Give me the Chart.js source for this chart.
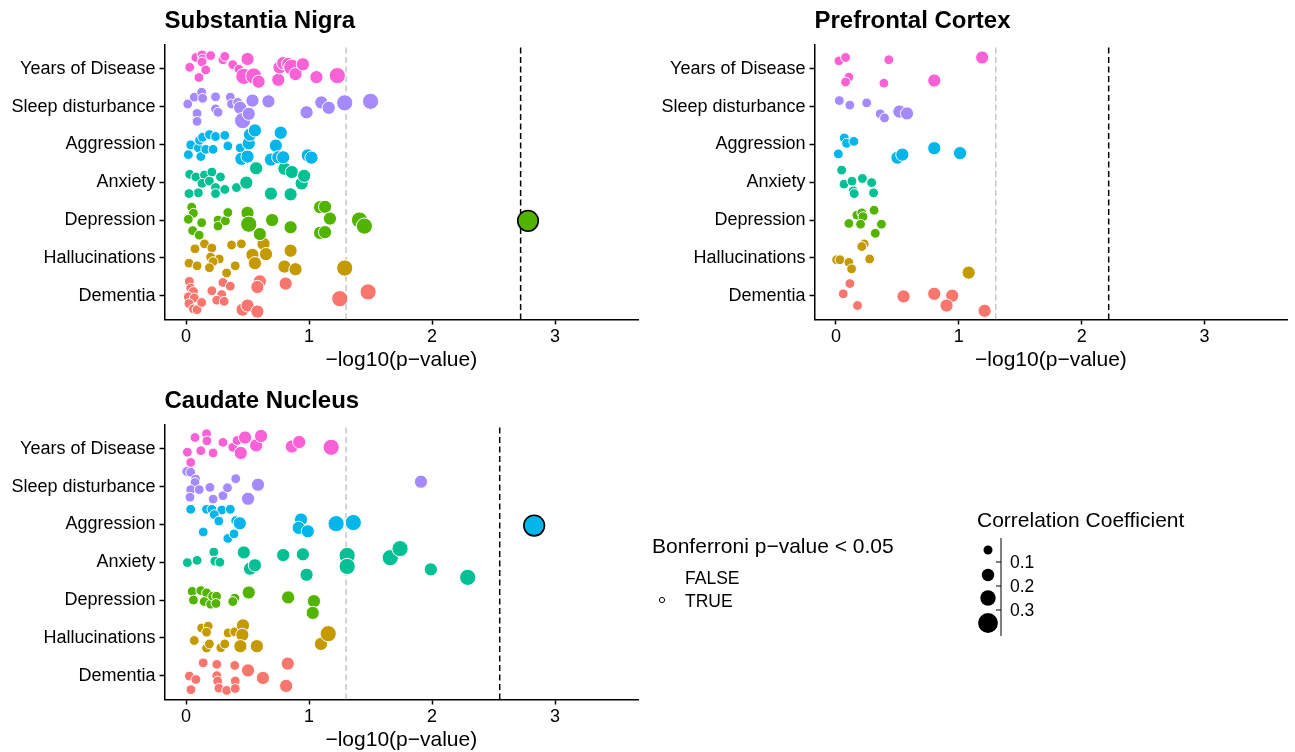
<!DOCTYPE html>
<html>
<head>
<meta charset="utf-8">
<script src="https://cdn.jsdelivr.net/npm/chart.js@4.4.1/dist/chart.umd.min.js"></script>
<style>
  html, body { margin: 0; padding: 0; background: #fff; overflow: hidden; }
  body { width: 1295px; height: 752px; position: relative; font-family: "Liberation Sans", Arial, sans-serif; }
  canvas { position: absolute; }
  #legend { position: absolute; left: 0; top: 0; }
</style>
</head>
<body>
<canvas id="sn" width="650" height="375" style="left:0;top:0"></canvas>
<canvas id="pfc" width="645" height="375" style="left:650px;top:0"></canvas>
<canvas id="cn" width="650" height="375" style="left:0;top:380px"></canvas>

<svg id="legend" width="1295" height="752" font-family="Liberation Sans, Arial, sans-serif">
  <text x="652" y="552.5" font-size="21">Bonferroni p−value &lt; 0.05</text>
  <text x="685" y="583.5" font-size="17.5">FALSE</text>
  <text x="685" y="606.5" font-size="17.5">TRUE</text>
  <circle cx="662" cy="600" r="2.6" fill="#fff" stroke="#000" stroke-width="1"></circle>

  <text x="977" y="526.5" font-size="21">Correlation Coefficient</text>
  <g id="sizeKeys"></g>
  <line x1="1001" y1="538" x2="1001" y2="636" stroke="#000" stroke-width="1"></line>
  <g id="sizeTicks"></g>
</svg>

<script>
// categories bottom -> top on the y axis
const CATEGORIES = ['Dementia', 'Hallucinations', 'Depression', 'Anxiety', 'Aggression', 'Sleep disturbance', 'Years of Disease'];
const COLORS = ['#F8766D', '#C49A00', '#53B400', '#00C094', '#00B6EB', '#A58AFF', '#FB61D7'];
const X_TICKS = [0, 1, 2, 3];
const SIZE_BREAKS = [0.1, 0.2, 0.3];
const NOMINAL_LINE = 1.30103;   // -log10(0.05)

// bonferroni thresholds (-log10) per region
const BONF_SN = 2.72;
const BONF_PFC = 2.22;
const BONF_CN = 2.55;

// points: [ -log10(p), vertical jitter (category units, + = down), correlation coefficient ]
// --- Substantia Nigra ---
const SN_DEMENTIA = [[0.027,-0.38,.05],[0.038,-0.2,.05],[0.06,-0.11,.05],[0.019,0.03,.05],[0.067,0.06,.05],[0.024,0.21,.05],[0.06,0.35,.05],[0.09,0.37,.05],[0.127,0.18,.05],[0.21,-0.13,.05],[0.30,-0.35,.05],[0.36,-0.25,.05],[0.29,-0.03,.05],[0.25,0.12,.05],[0.31,0.15,.05],[0.46,0.37,.15],[0.50,0.26,.15],[0.58,0.42,.15],[0.60,-0.38,.15],[0.58,-0.23,.15],[0.81,-0.32,.15],[1.25,0.08,.25],[1.48,-0.1,.25]];
const SN_HALLUCINATIONS = [[0.073,-0.24,.05],[0.15,-0.37,.05],[0.21,-0.26,.05],[0.024,0.14,.05],[0.09,0.21,.05],[0.2,-0.02,.05],[0.27,0.03,.05],[0.22,0.1,.05],[0.19,0.26,.05],[0.33,0.4,.05],[0.37,-0.34,.05],[0.45,-0.37,.05],[0.40,0.21,.05],[0.54,-0.08,.15],[0.56,0.14,.15],[0.63,-0.37,.15],[0.65,-0.1,.15],[0.80,0.23,.15],[0.85,-0.19,.15],[0.89,0.3,.15],[1.29,0.27,.25]];
const SN_DEPRESSION = [[0.046,-0.34,.05],[0.06,-0.18,.05],[0.019,-0.02,.05],[0.127,0.07,.05],[0.054,0.28,.05],[0.107,0.4,.05],[0.26,0,.05],[0.26,0.16,.05],[0.32,0.02,.05],[0.34,-0.2,.05],[0.50,-0.19,.15],[0.51,0.11,.25],[0.60,0.37,.15],[0.70,0,.15],[0.85,0.19,.15],[1.09,-0.34,.15],[1.13,-0.35,.15],[1.17,-0.04,.15],[1.09,0.34,.15],[1.13,0.32,.15],[1.41,0,.25],[1.45,0.16,.25],[2.78,0.02,.35]];
const SN_ANXIETY = [[0.03,-0.21,.05],[0.08,-0.14,.05],[0.15,-0.19,.05],[0.21,-0.27,.05],[0.13,0.03,.05],[0.19,-0.03,.05],[0.28,-0.14,.05],[0.24,0.14,.05],[0.24,0.3,.05],[0.315,0.19,.05],[0.1,0.28,.05],[0.024,0.3,.05],[0.41,0.14,.05],[0.49,0.01,.15],[0.57,-0.37,.15],[0.69,0.3,.15],[0.80,-0.36,.15],[0.86,-0.27,.15],[0.94,0.03,.15],[0.96,-0.17,.15],[0.85,0.32,.15]];
const SN_AGGRESSION = [[0.019,0.27,.05],[0.038,0.01,.05],[0.1,0.09,.05],[0.12,0.32,.05],[0.11,-0.11,.05],[0.135,-0.19,.05],[0.19,-0.26,.05],[0.24,-0.21,.05],[0.315,-0.24,.05],[0.16,0.13,.05],[0.22,0.13,.05],[0.34,0.04,.05],[0.44,0.09,.05],[0.45,0.38,.15],[0.5,0.32,.15],[0.51,-0.03,.15],[0.52,-0.26,.15],[0.56,-0.37,.15],[0.69,0.4,.15],[0.73,0.03,.15],[0.77,-0.31,.15],[0.75,0.34,.15],[0.79,0.34,.15],[0.99,0.29,.15],[1.02,0.35,.15]];
const SN_SLEEP = [[0.014,-0.07,.05],[0.067,-0.25,.05],[0.127,-0.38,.05],[0.135,-0.22,.05],[0.09,0.18,.05],[0.09,0.39,.05],[0.24,-0.26,.05],[0.24,0.06,.05],[0.26,0.15,.05],[0.36,-0.25,.05],[0.37,-0.07,.05],[0.42,-0.11,.05],[0.44,0.03,.15],[0.46,0.37,.25],[0.51,0.19,.15],[0.54,-0.16,.15],[0.67,-0.14,.15],[0.98,0.15,.15],[1.10,-0.11,.15],[1.16,0.03,.15],[1.29,-0.1,.25],[1.50,-0.14,.25]];
const SN_YEARS = [[0.03,-0.04,.05],[0.08,-0.3,.05],[0.13,-0.37,.05],[0.135,-0.26,.05],[0.13,-0.18,.05],[0.16,0.03,.05],[0.105,0.23,.05],[0.2,-0.35,.05],[0.30,-0.24,.05],[0.315,-0.33,.05],[0.38,-0.11,.05],[0.43,0.01,.05],[0.50,-0.26,.15],[0.47,0.2,.25],[0.55,0.19,.25],[0.59,0.34,.15],[0.75,0.29,.15],[0.76,-0.04,.15],[0.79,-0.15,.15],[0.83,-0.13,.15],[0.86,-0.04,.25],[0.89,0.14,.15],[0.95,-0.12,.15],[1.06,0.22,.15],[1.23,0.18,.25]];

// --- Prefrontal Cortex ---
const PFC_DEMENTIA = [[0.113,-0.32,.05],[0.059,-0.05,.05],[0.175,0.26,.05],[0.55,0.02,.15],[0.80,-0.05,.15],[0.946,0,.15],[0.90,0.26,.15],[1.21,0.4,.15]];
const PFC_HALLUCINATIONS = [[0.23,-0.37,.05],[0.21,-0.3,.05],[0.005,0.05,.05],[0.032,0.05,.05],[0.105,0.12,.05],[0.127,0.29,.05],[0.274,0.03,.05],[1.08,0.39,.15]];
const PFC_DEPRESSION = [[0.31,-0.26,.05],[0.17,-0.13,.05],[0.21,-0.19,.05],[0.22,-0.09,.05],[0.105,0.09,.05],[0.2,0.11,.05],[0.37,0.11,.05],[0.32,0.35,.05]];
const PFC_ANXIETY = [[0.046,-0.32,.05],[0.065,0.05,.05],[0.13,-0.03,.05],[0.215,-0.1,.05],[0.29,0.01,.05],[0.14,0.23,.05],[0.148,0.3,.05],[0.306,0.28,.05]];
const PFC_AGGRESSION = [[0.067,-0.17,.05],[0.086,-0.03,.05],[0.145,-0.08,.05],[0.019,0.25,.05],[0.50,0.35,.15],[0.54,0.27,.15],[0.80,0.1,.15],[1.01,0.23,.15]];
const PFC_SLEEP = [[0.027,-0.16,.05],[0.113,-0.04,.05],[0.25,-0.1,.05],[0.36,0.19,.05],[0.395,0.3,.05],[0.516,0.13,.15],[0.578,0.18,.15]];
const PFC_YEARS = [[0.024,-0.21,.05],[0.078,-0.3,.05],[0.43,-0.24,.05],[0.105,0.22,.05],[0.078,0.35,.05],[0.39,0.38,.05],[0.80,0.31,.15],[1.19,-0.3,.15]];

// --- Caudate Nucleus ---
const CN_DEMENTIA = [[0.14,-0.34,.05],[0.25,-0.3,.05],[0.396,-0.27,.05],[0.027,0.01,.05],[0.08,0.1,.05],[0.25,0,.05],[0.257,0.14,.05],[0.40,0.14,.05],[0.04,0.37,.05],[0.267,0.33,.05],[0.33,0.39,.05],[0.40,0.34,.05],[0.504,-0.14,.15],[0.625,0.06,.15],[0.827,-0.32,.15],[0.814,0.27,.15]];
const CN_HALLUCINATIONS = [[0.127,-0.26,.05],[0.18,-0.31,.05],[0.167,-0.15,.05],[0.067,0.07,.05],[0.167,0.27,.05],[0.19,0.16,.05],[0.283,0.26,.05],[0.315,0.16,.05],[0.342,-0.13,.05],[0.396,-0.16,.05],[0.463,-0.33,.15],[0.458,-0.08,.15],[0.442,0.22,.15],[0.576,0.22,.15],[1.097,0.16,.15],[1.156,-0.11,.25]];
const CN_DEPRESSION = [[0.05,-0.23,.05],[0.12,-0.25,.05],[0.06,0,.05],[0.167,-0.19,.05],[0.148,0.04,.05],[0.2,0.11,.05],[0.216,-0.1,.05],[0.248,-0.1,.05],[0.243,0.09,.05],[0.396,-0.05,.05],[0.38,0.04,.05],[0.51,-0.2,.15],[0.83,-0.07,.15],[1.04,0.03,.15],[1.03,0.34,.15]];
const CN_ANXIETY = [[0.011,0.01,.05],[0.09,-0.05,.05],[0.226,-0.27,.05],[0.234,-0.03,.05],[0.275,0,.05],[0.47,-0.26,.15],[0.52,0.17,.15],[0.56,0.08,.15],[0.79,-0.19,.15],[0.95,-0.21,.15],[0.98,0.33,.15],[1.31,-0.18,.25],[1.31,0.11,.25],[1.66,-0.12,.25],[1.74,-0.36,.25],[1.99,0.19,.15],[2.29,0.4,.25]];
const CN_AGGRESSION = [[0.038,-0.4,.05],[0.167,-0.4,.05],[0.21,-0.4,.05],[0.29,-0.38,.05],[0.36,-0.4,.05],[0.23,-0.26,.05],[0.267,-0.09,.05],[0.14,0.2,.05],[0.34,0.37,.05],[0.39,0.25,.05],[0.404,-0.1,.05],[0.437,-0.03,.15],[0.935,-0.13,.15],[0.916,0.09,.15],[0.99,0.18,.15],[1.22,-0.02,.25],[1.36,-0.05,.25],[2.83,0.03,.35]];
const CN_SLEEP = [[0.006,-0.4,.05],[0.038,-0.38,.05],[0.078,-0.2,.05],[0.073,-0.11,.05],[0.038,0.08,.05],[0.107,0.08,.05],[0.032,0.28,.05],[0.194,0.02,.05],[0.22,0.33,.05],[0.30,0.24,.05],[0.337,0.03,.05],[0.404,-0.21,.05],[0.504,0.32,.15],[0.585,-0.05,.15],[1.91,-0.13,.15]];
const CN_YEARS = [[0.073,-0.3,.05],[0.167,-0.4,.05],[0.17,-0.21,.05],[0.30,-0.17,.05],[0.011,0.09,.05],[0.12,0.05,.05],[0.22,0.11,.05],[0.38,-0.04,.05],[0.415,-0.22,.05],[0.48,-0.3,.15],[0.445,0.11,.15],[0.57,-0.09,.15],[0.61,-0.34,.15],[0.86,-0.06,.15],[0.92,-0.18,.15],[1.18,-0.04,.25],[0.038,0.36,.05]];

const FONT = '"Liberation Sans", Arial, sans-serif';

// binned size scale (same as ggplot's binned legend)
function sizeFor(coef) {
    if (coef < SIZE_BREAKS[0]) return 4.9;
    if (coef < SIZE_BREAKS[1]) return 6.6;
    if (coef < SIZE_BREAKS[2]) return 8.1;
    return 10.3;
}

function makePanel(canvasId, title, groups, bonf, padRight) {
    const datasets = groups.map((pts, i) => ({
        type: 'scatter',
        data: pts.map(p => ({ x: p[0], y: i + 1 - p[1], coef: p[2], sig: p[0] > bonf })),
        backgroundColor: COLORS[i],
        borderColor: ctx => (ctx.raw && ctx.raw.sig) ? '#000000' : '#FFFFFF',
        borderWidth: ctx => (ctx.raw && ctx.raw.sig) ? 1.6 : 1,
        pointRadius: ctx => ctx.raw ? sizeFor(ctx.raw.coef) : 4,
        pointHoverRadius: ctx => ctx.raw ? sizeFor(ctx.raw.coef) : 4
    })).reverse();

    // reference lines (drawn beneath the points)
    datasets.push({
        type: 'line',
        data: [{ x: bonf, y: 0.37 }, { x: bonf, y: 7.63 }],
        borderColor: '#000000', borderWidth: 1.5, borderDash: [6, 3.5], pointRadius: 0
    });
    datasets.push({
        type: 'line',
        data: [{ x: NOMINAL_LINE, y: 0.37 }, { x: NOMINAL_LINE, y: 7.63 }],
        borderColor: '#BEBEBE', borderWidth: 1.3, borderDash: [6, 3.5], pointRadius: 0
    });

    const axisGrid = { drawOnChartArea: false, drawTicks: true, tickLength: 5, tickWidth: 1.5, tickColor: '#000' };
    const axisBorder = { display: true, color: '#000', width: 1.5 };

    new Chart(document.getElementById(canvasId), {
        data: { datasets: datasets },
        options: {
            responsive: false,
            animation: false,
            devicePixelRatio: 1,
            layout: { padding: { top: 0, right: padRight, left: 0, bottom: 0 } },
            plugins: {
                legend: { display: false },
                tooltip: { enabled: false },
                title: {
                    display: true, text: title, align: 'start', fullSize: false, color: '#000',
                    font: { family: FONT, size: 24, weight: 'bold' },
                    padding: { top: 7, bottom: 9.2 }
                }
            },
            scales: {
                x: {
                    type: 'linear', min: -0.175, max: 3.675,
                    afterBuildTicks: s => { s.ticks = X_TICKS.map(v => ({ value: v })); },
                    afterFit: s => { s.height = 55.5; },
                    grid: axisGrid, border: axisBorder,
                    ticks: { color: '#000', font: { family: FONT, size: 18 }, padding: 2, maxRotation: 0, autoSkip: false, callback: v => String(v) },
                    title: { display: true, text: '−log10(p−value)', color: '#000', font: { family: FONT, size: 21 }, padding: { top: 0, bottom: 2 } }
                },
                y: {
                    type: 'linear', min: 0.37, max: 7.63,
                    afterBuildTicks: s => { s.ticks = CATEGORIES.map((c, i) => ({ value: i + 1 })); },
                    afterFit: s => { s.width = 164.5; },
                    grid: axisGrid, border: axisBorder,
                    ticks: { color: '#000', font: { family: FONT, size: 18 }, padding: 4, autoSkip: false, callback: v => CATEGORIES[v - 1] }
                }
            }
        }
    });
}

makePanel('sn', 'Substantia Nigra', [SN_DEMENTIA, SN_HALLUCINATIONS, SN_DEPRESSION, SN_ANXIETY, SN_AGGRESSION, SN_SLEEP, SN_YEARS], BONF_SN, 10);
makePanel('pfc', 'Prefrontal Cortex', [PFC_DEMENTIA, PFC_HALLUCINATIONS, PFC_DEPRESSION, PFC_ANXIETY, PFC_AGGRESSION, PFC_SLEEP, PFC_YEARS], BONF_PFC, 3.3);
makePanel('cn', 'Caudate Nucleus', [CN_DEMENTIA, CN_HALLUCINATIONS, CN_DEPRESSION, CN_ANXIETY, CN_AGGRESSION, CN_SLEEP, CN_YEARS], BONF_CN, 10);

// size legend keys (circles for each bin) and break labels
const NS = 'http://www.w3.org/2000/svg';
const keyY = [550, 575, 598, 623];
const keyCoef = [0.05, 0.15, 0.25, 0.35];
const keys = document.getElementById('sizeKeys');
keyCoef.forEach((c, i) => {
    const el = document.createElementNS(NS, 'circle');
    el.setAttribute('cx', 988);
    el.setAttribute('cy', keyY[i]);
    el.setAttribute('r', sizeFor(c) - 0.4);
    el.setAttribute('fill', '#000');
    keys.appendChild(el);
});
const tickG = document.getElementById('sizeTicks');
const breakY = [562, 586, 610];
SIZE_BREAKS.forEach((b, i) => {
    const ln = document.createElementNS(NS, 'line');
    ln.setAttribute('x1', 996); ln.setAttribute('x2', 1001);
    ln.setAttribute('y1', breakY[i]); ln.setAttribute('y2', breakY[i]);
    ln.setAttribute('stroke', '#000'); ln.setAttribute('stroke-width', 1);
    tickG.appendChild(ln);
    const tx = document.createElementNS(NS, 'text');
    tx.setAttribute('x', 1010);
    tx.setAttribute('y', breakY[i] + 6.3);
    tx.setAttribute('font-size', 17.5);
    tx.textContent = b.toFixed(1);
    tickG.appendChild(tx);
});
</script>
</body>
</html>
